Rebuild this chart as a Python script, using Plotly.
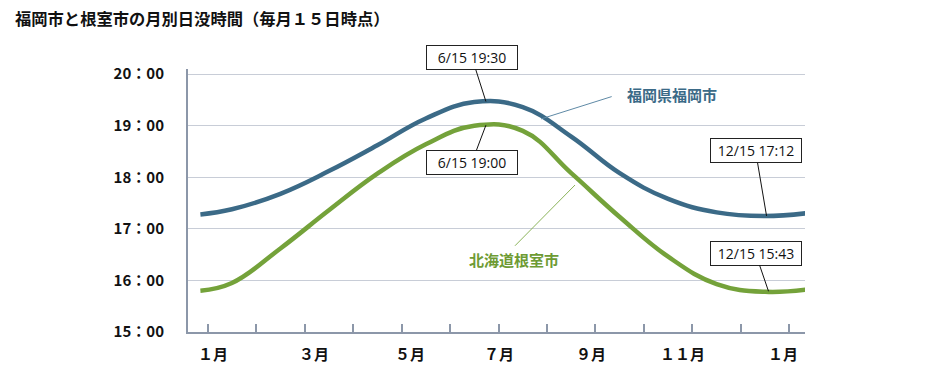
import plotly.graph_objects as go

# ---------------- data ----------------
# x position in months (0 = 1月1日), samples on the 15th of each month
month_pos = [-0.15, 0.5, 1.5, 2.5, 3.5, 4.5, 5.5, 6.5, 7.5, 8.5, 9.5, 10.5, 11.5, 12.5]
fukuoka = [17.28, 17.38, 17.68, 18.12, 18.62, 19.14, 19.46, 19.36, 18.79, 18.08, 17.58, 17.32, 17.25, 17.32]
nemuro = [15.80, 15.95, 16.62, 17.36, 18.07, 18.64, 19.00, 18.90, 18.08, 17.23, 16.46, 15.93, 15.78, 15.84]

tick_months = list(range(13))
month_labels = ["１月", "３月", "５月", "７月", "９月", "１１月", "１月"]
y_ticks = [15, 16, 17, 18, 19, 20]
y_labels = ["15：00", "16：00", "17：00", "18：00", "19：00", "20：00"]

series_names = ["福岡県福岡市", "北海道根室市"]
callout_text = ["6/15 19:30", "6/15 19:00", "12/15 17:12", "12/15 15:43"]
callout_x = [5.74, 5.74, 11.53, 11.57]
callout_y = [19.47, 19.01, 17.25, 15.79]

title = "福岡市と根室市の月別日没時間（毎月１５日時点）"

# ---------------- styles ----------------
BLUE = "#3b6a87"
GREEN = "#74a23a"
AXIS = "#8c97a9"
GRID = "#c8cdd7"
JP = "Noto Sans CJK JP"

W, H = 940, 373
ML, MR, MT, MB = 188, 135, 69, 41
PW, PH = W - ML - MR, H - MT - MB

fig = go.Figure()
fig.add_trace(go.Scatter(x=month_pos, y=fukuoka, mode="lines", name=series_names[0],
                         line=dict(color=BLUE, width=4.5, shape="spline", smoothing=1.2),
                         hoverinfo="skip"))
fig.add_trace(go.Scatter(x=month_pos, y=nemuro, mode="lines", name=series_names[1],
                         line=dict(color=GREEN, width=4.5, shape="spline", smoothing=1.2),
                         hoverinfo="skip"))

fig.update_layout(
    width=W, height=H,
    margin=dict(l=ML, r=MR, t=MT, b=MB, pad=0),
    plot_bgcolor="white", paper_bgcolor="white",
    showlegend=False,
    font=dict(family=JP, color="#111111"),
)
fig.update_xaxes(
    range=[-0.406, 12.323], showgrid=False, zeroline=False,
    showline=True, linecolor=AXIS, linewidth=2,
    tickmode="array", tickvals=tick_months, showticklabels=False,
    ticks="inside", ticklen=8, tickwidth=1.5, tickcolor=AXIS,
)
fig.update_yaxes(
    range=[15, 20.1], zeroline=False,
    showline=True, linecolor=AXIS, linewidth=2,
    showgrid=True, gridcolor=GRID, gridwidth=1.3,
    tickmode="array", tickvals=y_ticks, ticktext=y_labels,
    ticks="", ticklabelstandoff=19,
    tickfont=dict(family=JP, size=15, color="#111111", weight="bold"),
)

# month labels (hand placed in the original)
label_pos = [0.11, 2.20, 4.17, 6.0, 7.91, 9.80, 11.87]
for pos, txt in zip(label_pos, month_labels):
    fig.add_annotation(x=pos, y=0, xref="x", yref="paper", text=txt, showarrow=False,
                       yanchor="middle", yshift=-21,
                       font=dict(family=JP, size=15, color="#111111", weight="bold"))

# title
fig.add_annotation(x=(13 - ML) / PW, y=(H - MB - 18) / PH, xref="paper", yref="paper", text=title,
                   showarrow=False, xanchor="left", yanchor="middle",
                   font=dict(family=JP, size=16.3, color="#111111", weight="bold"))

# callout boxes
offsets = [(-14, -44), (-14, 37), (-11, -65), (-13, -38)]
for txt, cx, cy, (ax, ay) in zip(callout_text, callout_x, callout_y, offsets):
    fig.add_annotation(x=cx, y=cy, xref="x", yref="y", text=txt,
                       showarrow=True, arrowhead=0, arrowwidth=1, arrowcolor="#111111",
                       ax=ax, ay=ay, axref="pixel", ayref="pixel",
                       bgcolor="white", bordercolor="#222222", borderwidth=1, borderpad=2,
                       width=86, height=19,
                       font=dict(family="Open Sans", size=14, color="#111111"))

# series labels with leader lines
fig.add_annotation(x=9.569, y=19.60, xref="x", yref="y", text=series_names[0], showarrow=False,
                   font=dict(family=JP, size=15, color=BLUE, weight="bold"))
fig.add_annotation(x=6.313, y=16.414, xref="x", yref="y", text=series_names[1], showarrow=False,
                   font=dict(family=JP, size=15, color="#6e9b34", weight="bold"))
fig.add_shape(type="line", x0=6.877, y0=19.132, x1=8.335, y1=19.565, xref="x", yref="y",
              line=dict(color="#5f8aa6", width=1))
fig.add_shape(type="line", x0=6.340, y0=16.672, x1=7.578, y1=17.850, xref="x", yref="y",
              line=dict(color="#8bb45a", width=1))

# remove the browser's default 8px body margin so the figure fills the window
fig.write_html("out.html", config={"displayModeBar": False},
               post_script="document.body.style.margin='0px';")
